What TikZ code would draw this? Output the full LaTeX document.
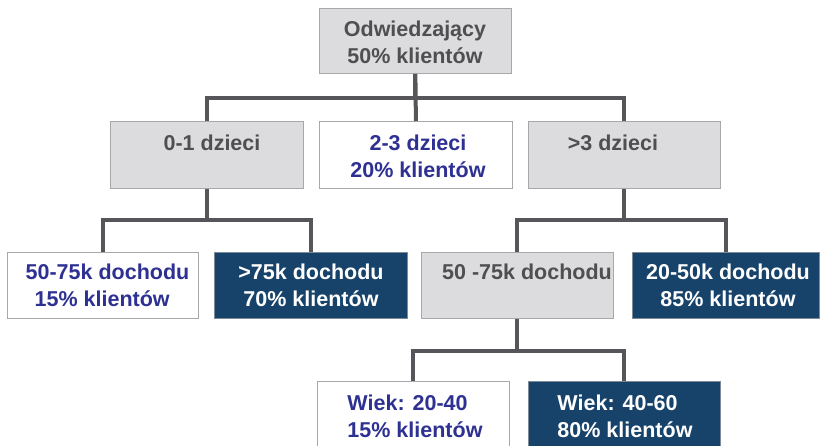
\documentclass[tikz,border=0pt]{standalone}
\usepackage{fontspec}
\setmainfont{Liberation Sans}
\definecolor{boxgray}{HTML}{DCDCDE}
\definecolor{edgegray}{HTML}{A8A8AA}
\definecolor{txtgray}{HTML}{4F4F52}
\definecolor{txtblue}{HTML}{2E3192}
\definecolor{navy}{HTML}{17436B}
\definecolor{linegray}{HTML}{56565A}
\tikzset{
  card/.style={draw=edgegray, line width=0.8pt, inner sep=0pt, anchor=north west},
  graycard/.style={card, fill=boxgray},
  whitecard/.style={card, fill=white},
  navycard/.style={card, fill=navy, draw=edgegray!70!navy},
  lbl/.style={font=\fontsize{21.5}{26.5}\selectfont\bfseries, inner sep=0pt, anchor=north},
  graytxt/.style={lbl, text=txtgray, align=center},
  bluetxt/.style={lbl, text=txtblue},
  whitetxt/.style={lbl, text=white},
  conn/.style={draw=linegray, line width=4pt, line join=miter}
}
\begin{document}
\begin{tikzpicture}[x=1pt, y=-1pt]
\useasboundingbox (0,0) rectangle (820,446);

% boxes: top row
\node[graycard, minimum width=192pt, minimum height=65pt] (top) at (319,8) {};
% second row
\node[graycard,  minimum width=193pt, minimum height=67pt] (kid01) at (110,121) {};
\node[whitecard, minimum width=193pt, minimum height=67pt] (kid23) at (319,121) {};
\node[graycard,  minimum width=192pt, minimum height=67pt] (kid3)  at (528,121) {};
% third row
\node[whitecard, minimum width=191pt, minimum height=66pt] (incA) at (7,252) {};
\node[navycard,  minimum width=193pt, minimum height=66pt] (incB) at (214,252) {};
\node[graycard,  minimum width=192pt, minimum height=66pt] (incC) at (421,252) {};
\node[navycard,  minimum width=187pt, minimum height=66pt] (incD) at (632,252) {};
% fourth row
\node[whitecard, minimum width=192pt, minimum height=75pt] (ageA) at (317,381) {};
\node[navycard,  minimum width=192pt, minimum height=75pt] (ageB) at (528,381) {};

% texts
\node[graytxt] (t-top) at (415,21) {Odwiedzający\\50\% klientów};
\node[graytxt] (t-kid01) at (212,135) {0-1 dzieci};
\node[lbl, text=txtblue, align=center] (t-kid23) at (418,135) {2-3 dzieci\\20\% klientów};
\node[graytxt] (t-kid3) at (613,135) {>3 dzieci};
\node[bluetxt, align=left] (t-incA) at (112,264) {\hspace*{-9pt}50-75k dochodu\\15\% klientów};
\node[whitetxt, align=center] (t-incB) at (311,264) {>75k dochodu\\70\% klientów};
\node[graytxt] (t-incC) at (527,264) {50 -75k dochodu};
\node[whitetxt, align=center] (t-incD) at (728,264) {20-50k dochodu\\85\% klientów};
\node[bluetxt, align=left] (t-ageA) at (415,395) {Wiek: 20-40\\15\% klientów};
\node[whitetxt, align=left] (t-ageB) at (625,395) {Wiek: 40-60\\80\% klientów};

% connectors
\draw[conn] (top.south) -- (kid23.north);
\draw[conn] (top.south) -- ++(0,24) coordinate (bus1) -| (kid01.north);
\draw[conn] (bus1) -| (kid3.north);

\draw[conn] (kid01.south) -- ++(0,31) coordinate (bus2) -| (incA.north);
\draw[conn] (bus2) -| (incB.north);

\draw[conn] (kid3.south) -- ++(0,31) coordinate (bus3) -| (incC.north);
\draw[conn] (bus3) -| (incD.north);

\draw[conn] (incC.south) -- ++(0,32) coordinate (bus4) -| (ageA.north);
\draw[conn] (bus4) -| (ageB.north);
\end{tikzpicture}
\end{document}
